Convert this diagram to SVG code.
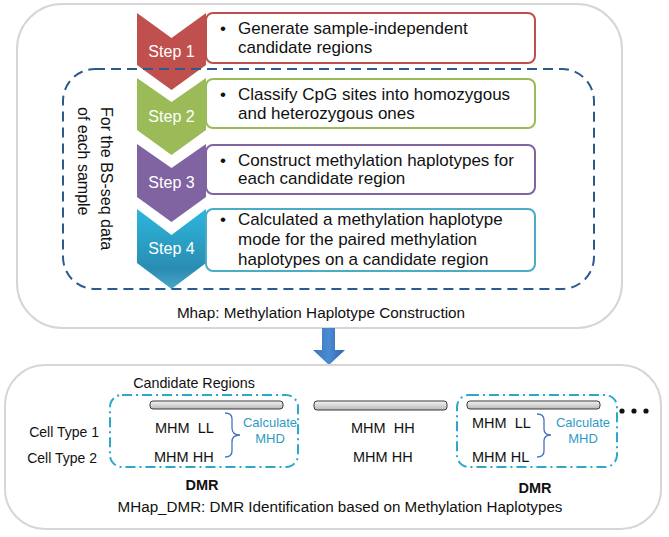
<svg xmlns="http://www.w3.org/2000/svg" width="669" height="537" viewBox="0 0 669 537">
<defs>
<style>
text{font-family:"Liberation Sans",Arial,sans-serif;fill:#111}
.step{font-size:16px;fill:#fff;text-anchor:middle}
.body{font-size:17px}
.cap{font-size:15.3px;text-anchor:middle}
.cell{font-size:14px;text-anchor:end}
.mhm{font-size:14.5px}
.calc{font-size:13px;fill:#2E9CC4;text-anchor:middle}
.dmr{font-size:14.5px;font-weight:bold;text-anchor:middle}
.vert{font-size:16px}
.tbox{fill:#fff;stroke-width:2}
.bar{fill:url(#barg);stroke:#3a3a3a;stroke-width:1}
.dmrbox{fill:none;stroke:#2AA9CB;stroke-width:2;stroke-dasharray:10 4 2 4}
.brace{fill:none;stroke:#4472C4;stroke-width:1.3}
</style>
<linearGradient id="barg" x1="0" y1="0" x2="0" y2="1">
<stop offset="0" stop-color="#f4f4f4"/><stop offset="1" stop-color="#b8b8b8"/>
</linearGradient>
<linearGradient id="s4g" x1="0" y1="0" x2="0" y2="1">
<stop offset="0" stop-color="#2DB6DD"/><stop offset="0.75" stop-color="#2A8CB2"/><stop offset="1" stop-color="#4AA6C8"/>
</linearGradient>
<linearGradient id="arrg" x1="0" y1="0" x2="1" y2="0">
<stop offset="0" stop-color="#3A76BE"/><stop offset="0.5" stop-color="#4A8BD2"/><stop offset="1" stop-color="#2E64A8"/>
</linearGradient>
</defs>

<g id="mhap-panel">
<rect x="17" y="4" width="605" height="324" rx="45" fill="#fff" stroke="#d6d6d6" stroke-width="2"/>
<text class="cap" x="321" y="318">Mhap: Methylation Haplotype Construction</text>
</g>

<g id="step1">
<polygon points="137,13 171.5,38 206,13 206,65 171.5,90 137,65" fill="#C0504D"/>
<text class="step" x="171.5" y="57">Step 1</text>
<rect class="tbox" x="206" y="13" width="329" height="50" rx="7" stroke="#C0504D"/>
<text class="body" x="220" y="34">•</text>
<text class="body" x="238" y="34">Generate sample-independent</text>
<text class="body" x="238" y="53">candidate regions</text>
</g>

<g id="step2">
<polygon points="137,78 171.5,102 206,78 206,130 171.5,155 137,130" fill="#9BBB59"/>
<text class="step" x="171.5" y="122">Step 2</text>
<rect class="tbox" x="206" y="79" width="329" height="49" rx="7" stroke="#9BBB59"/>
<text class="body" x="220" y="100">•</text>
<text class="body" x="238" y="100">Classify CpG sites into homozygous</text>
<text class="body" x="238" y="119">and heterozygous ones</text>
</g>

<g id="step3">
<polygon points="137,144 171.5,168 206,144 206,197 171.5,222 137,197" fill="#8064A2"/>
<text class="step" x="171.5" y="188">Step 3</text>
<rect class="tbox" x="206" y="145" width="329" height="49" rx="7" stroke="#8064A2"/>
<text class="body" x="220" y="166">•</text>
<text class="body" x="238" y="166">Construct methylation haplotypes for</text>
<text class="body" x="238" y="184">each candidate region</text>
</g>

<g id="step4">
<polygon points="137,209 171.5,235 206,209 206,263 171.5,289 137,263" fill="url(#s4g)"/>
<text class="step" x="171.5" y="254">Step 4</text>
<rect class="tbox" x="206" y="209" width="329" height="62" rx="7" stroke="#4BACC6"/>
<text class="body" x="220" y="225">•</text>
<text class="body" x="238" y="225">Calculated a methylation haplotype</text>
<text class="body" x="238" y="245">mode for the paired methylation</text>
<text class="body" x="238" y="265">haplotypes on a candidate region</text>
</g>

<g id="per-sample">
<rect x="63" y="69" width="531" height="220" rx="32" fill="none" stroke="#2B5A8E" stroke-width="2" stroke-dasharray="10 6"/>
<text class="vert" transform="translate(101,107) rotate(90)">For the BS-seq data</text>
<text class="vert" transform="translate(78,107) rotate(90)">of each sample</text>
</g>

<g id="connectors">
<polygon points="322,328 335,328 335,350 345,350 329,365 313,350 322,350" fill="url(#arrg)"/>
</g>

<g id="dmr-panel">
<rect x="5" y="365" width="656" height="164" rx="40" fill="#fff" stroke="#d6d6d6" stroke-width="2"/>
<text x="194" y="388" style="font-size:14.3px;text-anchor:middle">Candidate Regions</text>
<text class="cell" x="99" y="437">Cell Type 1</text>
<text class="cell" x="97" y="463">Cell Type 2</text>
<text class="cap" x="340" y="512" style="font-size:15.2px">MHap_DMR: DMR Identification based on Methylation Haplotypes</text>
</g>

<g id="region1">
<rect class="dmrbox" x="110" y="395" width="188" height="72" rx="12"/>
<rect class="bar" x="150" y="401" width="133" height="8" rx="3"/>
<text class="mhm" x="155" y="433" xml:space="preserve">MHM  LL</text>
<text class="mhm" x="154" y="462">MHM HH</text>
<path class="brace" d="M225,413 Q232,413 232,419 L232,428 Q232,435 240,435 Q232,435 232,442 L232,451 Q232,457 225,457"/>
<text class="calc" x="270" y="427">Calculate</text>
<text class="calc" x="270" y="443">MHD</text>
<text class="dmr" x="202" y="490">DMR</text>
</g>

<g id="region2">
<rect class="bar" x="314" y="401" width="133" height="9" rx="3"/>
<text class="mhm" x="351" y="433" xml:space="preserve">MHM  HH</text>
<text class="mhm" x="353" y="462">MHM HH</text>
</g>

<g id="region3">
<rect class="dmrbox" x="457" y="395" width="160" height="72" rx="12"/>
<rect class="bar" x="467" y="401" width="133" height="8" rx="3"/>
<text class="mhm" x="472" y="428" xml:space="preserve">MHM  LL</text>
<text class="mhm" x="472" y="462">MHM HL</text>
<path class="brace" d="M537,414 Q544,414 544,420 L544,429 Q544,435 551,435 Q544,435 544,441 L544,451 Q544,457 537,457"/>
<text class="calc" x="583" y="427">Calculate</text>
<text class="calc" x="583" y="443">MHD</text>
<text class="dmr" x="535" y="493">DMR</text>
</g>

<g id="ellipsis">
<circle cx="622" cy="411" r="2.6" fill="#111"/>
<circle cx="634" cy="411" r="2.6" fill="#111"/>
<circle cx="646" cy="411" r="2.6" fill="#111"/>
</g>
</svg>
